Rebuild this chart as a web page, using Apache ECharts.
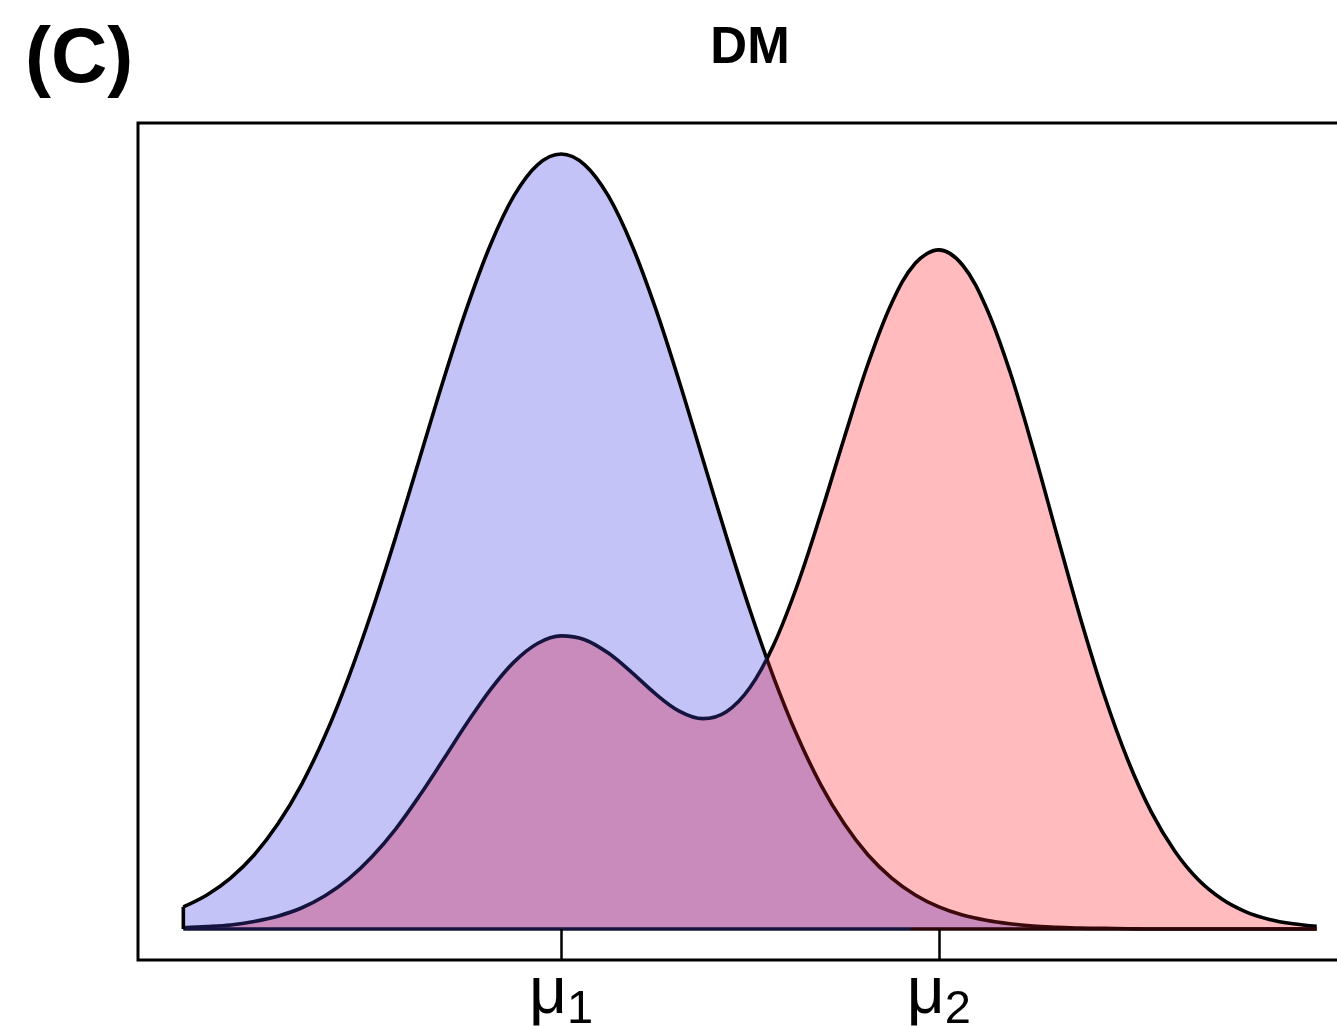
<!DOCTYPE html>
<html>
<head>
<meta charset="utf-8">
<title>DM</title>
<script src="https://cdn.jsdelivr.net/npm/echarts@6/dist/echarts.min.js"></script>
<style>
  html, body { margin: 0; padding: 0; background: #fff; overflow: hidden; }
  #chart { width: 1500px; height: 1026px; }
</style>
</head>
<body>
<div id="chart"></div>
<script>
// Grid of x positions (in units of the common scale, mu1 = 0, mu2 = 4)
const xGrid = [
  -4, -3.75, -3.5, -3.25, -3, -2.75, -2.5, -2.25, -2, -1.75, -1.5, -1.25,
  -1, -0.75, -0.5, -0.25, 0, 0.25, 0.5, 0.75, 1, 1.25, 1.5, 1.75,
  2, 2.25, 2.5, 2.75, 3, 3.25, 3.5, 3.75, 4, 4.25, 4.5, 4.75,
  5, 5.25, 5.5, 5.75, 6, 6.25, 6.5, 6.75, 7, 7.25, 7.5, 7.75, 8
];

// Unimodal density (blue)
const blueDensity = [
  0.0076, 0.0117, 0.0175, 0.0254, 0.0360, 0.0495, 0.0663, 0.0864, 0.1094, 0.1347, 0.1613, 0.1880,
  0.2130, 0.2347, 0.2516, 0.2623, 0.2660, 0.2623, 0.2516, 0.2347, 0.2130, 0.1880, 0.1613, 0.1347,
  0.1094, 0.0864, 0.0663, 0.0495, 0.0360, 0.0254, 0.0175, 0.0117, 0.0076, 0.0048, 0.0030, 0.0018,
  0.0010, 0.0006, 0.0003, 0.0002, 0.0001, 0, 0, 0, 0, 0, 0, 0, 0
];

// Bimodal density (red)
const redDensity = [
  0.0004, 0.0008, 0.0014, 0.0026, 0.0044, 0.0072, 0.0114, 0.0172, 0.0249, 0.0344, 0.0457, 0.0580,
  0.0705, 0.0821, 0.0916, 0.0980, 0.1006, 0.0993, 0.0947, 0.0880, 0.0807, 0.0748, 0.0722, 0.0746,
  0.0829, 0.0975, 0.1179, 0.1425, 0.1688, 0.1940, 0.2148, 0.2285, 0.2331, 0.2279, 0.2134, 0.1915,
  0.1645, 0.1353, 0.1065, 0.0803, 0.0580, 0.0401, 0.0266, 0.0168, 0.0102, 0.0059, 0.0033, 0.0018, 0.0009
];

// Axis ticks: the two component means
const muTicks = [0, 4];
const muSubscripts = ['1', '2'];

const pairs = (ys) => xGrid.map((x, i) => [x, ys[i]]);

// x where the blue curve drops below the red one (right of mu1)
let crossX = muTicks[1];
for (let i = 1; i < xGrid.length; i++) {
  const d0 = blueDensity[i - 1] - redDensity[i - 1];
  const d1 = blueDensity[i] - redDensity[i];
  if (xGrid[i - 1] >= muTicks[0] && d0 > 0 && d1 <= 0) {
    crossX = xGrid[i - 1] + (xGrid[i] - xGrid[i - 1]) * d0 / (d0 - d1);
    break;
  }
}

const xMin = xGrid[0], xMax = xGrid[xGrid.length - 1];
const yMax = Math.max(...blueDensity, ...redDensity);
const padX = (xMax - xMin) * 0.04;
const padY = yMax * 0.04;
const axMin = xMin - padX, axMax = xMax + padX;

// Layout of the plotting box
const W = 1500, GL = 138, GR = 138, GT = 123, GB = 66;
const boxW = W - GL - GR;
const pxCross = GL + boxW * (crossX - axMin) / (axMax - axMin);

const SMOOTH = 0.35;
const fillSeries = (name, ys, color, z, axisIndex) => ({
  name, type: 'line', data: pairs(ys), smooth: SMOOTH, showSymbol: false, silent: true,
  xAxisIndex: axisIndex || 0, yAxisIndex: axisIndex || 0,
  lineStyle: { width: 0 }, areaStyle: { color, opacity: 1 }, z
});

// horizontal two-colour stroke switching at data value xs
const splitStroke = (xs, c1, c2) => {
  const f = Math.min(1, Math.max(0, (xs - xMin) / (xMax - xMin)));
  return new echarts.graphic.LinearGradient(0, 0, 1, 0, [
    { offset: 0, color: c1 }, { offset: f, color: c1 },
    { offset: f, color: c2 }, { offset: 1, color: c2 }
  ]);
};
const edgeSeries = (name, data, color) => ({
  name, type: 'line', data, smooth: SMOOTH, showSymbol: false, silent: true,
  lineStyle: { width: 3.6, color }, z: 10
});

const hiddenX = (min, max, gridIndex) => ({
  type: 'value', gridIndex, min, max, show: false, splitLine: { show: false }
});
const hiddenY = (gridIndex) => ({
  type: 'value', gridIndex, min: -padY, max: yMax + padY, show: false, splitLine: { show: false }
});

const overlapColor = '#c98bbb';
const gridBase = { top: GT, bottom: GB, containLabel: false, outerBoundsMode: 'none' };

const chart = echarts.init(document.getElementById('chart'), null, { renderer: 'canvas' });
chart.setOption({
  animation: false,
  backgroundColor: '#ffffff',
  title: [
    { text: 'DM', left: 'center', top: 18,
      textStyle: { fontFamily: 'Liberation Sans', fontWeight: 'bold', fontSize: 51, color: '#000' } },
    { text: '(C)', left: 20, top: 16,
      textStyle: { fontFamily: 'Liberation Sans', fontWeight: 'bold', fontSize: 78, color: '#000' } }
  ],
  grid: [
    Object.assign({ left: GL, right: GR, show: true, borderColor: '#000', borderWidth: 3,
      backgroundColor: 'transparent' }, gridBase),
    // left part of the overlap (x up to the crossing)
    Object.assign({ left: GL, right: W - pxCross, show: false }, gridBase),
    // right part of the overlap (x from the crossing)
    Object.assign({ left: pxCross, right: GR, show: false }, gridBase)
  ],
  xAxis: [
    {
      type: 'value', gridIndex: 0, min: axMin, max: axMax, z: 20,
      axisLine: { show: false, onZero: false },
      splitLine: { show: false },
      axisTick: { show: true, inside: true, length: 31, customValues: muTicks,
        lineStyle: { color: '#000', width: 2.5 } },
      axisLabel: {
        show: true, customValues: muTicks, margin: -5,
        formatter: (v) => '{m|μ}{s|' + muSubscripts[muTicks.indexOf(v)] + '}',
        rich: {
          m: { fontFamily: 'Liberation Sans', fontSize: 66, color: '#000', lineHeight: 74 },
          s: { fontFamily: 'Liberation Sans', fontSize: 47, color: '#000', padding: [32, 0, 0, 0] }
        }
      }
    },
    hiddenX(axMin, crossX, 1),
    hiddenX(crossX, axMax, 2)
  ],
  yAxis: [
    { type: 'value', gridIndex: 0, min: -padY, max: yMax + padY, show: false, splitLine: { show: false } },
    hiddenY(1),
    hiddenY(2)
  ],
  series: [
    fillSeries('blue fill', blueDensity, '#c3c3f7', 1),
    fillSeries('red fill', redDensity, '#ffbbbd', 2),
    fillSeries('overlap left', redDensity, overlapColor, 3, 1),
    fillSeries('overlap right', blueDensity, overlapColor, 3, 2),
    edgeSeries('blue edge', pairs(blueDensity), splitStroke(crossX, '#000000', '#3c0a0c')),
    edgeSeries('red edge', pairs(redDensity), splitStroke(crossX, '#14143e', '#000000')),
    edgeSeries('baseline', [[xMin, 0], [xMax, 0]], splitStroke(muTicks[1] - 0.3, '#14143c', '#2a0608')),
    edgeSeries('blue left edge', [[xMin, 0], [xMin, blueDensity[0]]], '#000000')
  ]
});
</script>
</body>
</html>
